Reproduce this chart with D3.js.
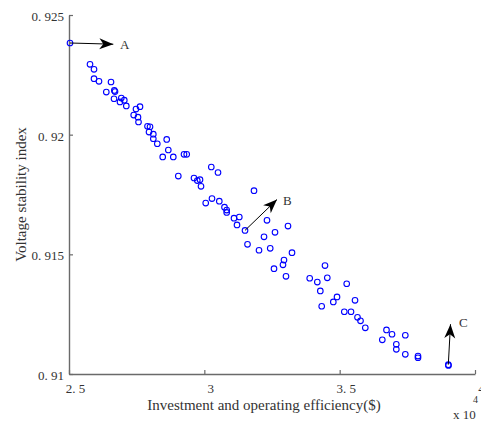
<!DOCTYPE html>
<html>
<head>
<meta charset="utf-8">
<script src="https://cdn.jsdelivr.net/npm/d3@7"></script>
<style>
  html, body { margin: 0; padding: 0; background: #fff; }
  svg text { font-family: "Liberation Serif", "Times New Roman", serif; fill: #333; }
</style>
</head>
<body>
<svg id="chart" width="481" height="421"></svg>
<script>
// Investment/operating efficiency (x 10^4 $) against voltage stability index
const investment = [
  2.5037, 2.5776, 2.5924, 2.5924, 2.6108, 2.6552, 2.6378, 2.6674, 2.6700, 2.6663,
  2.6884, 2.6932, 2.7043, 2.7117, 2.7623, 2.7475, 2.7390, 2.7549, 2.7568, 2.7900,
  2.7993, 2.7956, 2.8115, 2.8115, 2.8262, 2.8610, 2.8669, 2.8462, 2.8853, 2.9249,
  2.9349, 3.0257, 3.0505, 2.9038, 2.9618, 2.9740, 2.9840, 2.9877, 3.1835, 3.0051,
  3.0283, 3.0553, 3.0745, 3.0826, 3.0826, 3.1096, 3.1292, 3.1207, 3.1503, 3.1595,
  3.2315, 3.2205, 3.2611, 3.3091, 3.2020, 3.2434, 3.3239, 3.2943, 3.2906, 3.2574,
  3.3017, 3.4458, 3.3893, 3.4174, 3.4543, 3.5260, 3.4285, 3.4902, 3.4765, 3.5567,
  3.4336, 3.5171, 3.5419, 3.5659, 3.5770, 3.5947, 3.6730, 3.6934, 3.6575, 3.7425,
  3.7093, 3.7093, 3.7425, 3.7894, 3.7894, 3.9014, 3.9020
];
const stability = [
  0.92383, 0.92294, 0.92273, 0.92234, 0.92223, 0.92220, 0.92178, 0.92185, 0.92180, 0.92150,
  0.92137, 0.92153, 0.92144, 0.92120, 0.92117, 0.92107, 0.92082, 0.92073, 0.92053, 0.92035,
  0.92033, 0.92011, 0.92002, 0.91983, 0.91962, 0.91980, 0.91936, 0.91907, 0.91907, 0.91918,
  0.91918, 0.91865, 0.91842, 0.91827, 0.91819, 0.91808, 0.91812, 0.91784, 0.91766, 0.91714,
  0.91733, 0.91722, 0.91697, 0.91685, 0.91675, 0.91651, 0.91656, 0.91623, 0.91600, 0.91542,
  0.91642, 0.91573, 0.91592, 0.91618, 0.91517, 0.91525, 0.91507, 0.91476, 0.91456, 0.91440,
  0.91408, 0.91453, 0.91400, 0.91384, 0.91402, 0.91377, 0.91347, 0.91322, 0.91301, 0.91308,
  0.91283, 0.91260, 0.91260, 0.91237, 0.91222, 0.91193, 0.91184, 0.91166, 0.91143, 0.91162,
  0.91124, 0.91103, 0.91082, 0.91068, 0.91075, 0.91039, 0.91036
];

const xTicks = [2.5, 3, 3.5, 4];
const yTicks = [0.91, 0.915, 0.92, 0.925];
const xTickLabels = ["2. 5", "3", "3. 5", "4"];
const yTickLabels = ["0. 91", "0. 915", "0. 92", "0. 925"];

// Annotated solutions: arrow tail, arrow head, label anchor (data units)
const markNames = ["A", "B", "C"];
const arrowFromX = [2.5037, 3.1503, 3.9014];
const arrowFromY = [0.92383, 0.91600, 0.91039];
const arrowToX   = [2.6637, 3.2685, 3.9095];
const arrowToY   = [0.92378, 0.91729, 0.91208];
const labelX     = [2.6884, 3.2906, 3.9409];
const labelY     = [0.92378, 0.91727, 0.91217];

const svg = d3.select("#chart");
const x = d3.scaleLinear().domain([2.5, 4]).range([69, 475]);
const y = d3.scaleLinear().domain([0.91, 0.925]).range([374, 15]);

const axisColor = "#6a6a6a";

const xAxis = svg.append("g")
  .attr("transform", `translate(0,${y(0.91)})`)
  .call(d3.axisBottom(x).tickValues(xTicks)
    .tickFormat((d, i) => xTickLabels[i])
    .tickSizeInner(-4).tickSizeOuter(0).tickPadding(10));
xAxis.selectAll("text").attr("dx", 6).style("font-size", "13px");

const yAxis = svg.append("g")
  .attr("transform", `translate(${x(2.5)},0)`)
  .call(d3.axisLeft(y).tickValues(yTicks)
    .tickFormat((d, i) => yTickLabels[i])
    .tickSizeInner(-4).tickSizeOuter(0).tickPadding(5));
yAxis.selectAll("text").attr("dy", "0.42em").style("font-size", "13px");

[xAxis, yAxis].forEach(g => {
  g.select(".domain").attr("stroke", axisColor).attr("stroke-width", 1.4);
  g.selectAll(".tick line").attr("stroke", axisColor).attr("stroke-width", 1.2);
  g.selectAll("text").attr("fill", "#333");
});

// Scatter of the solution set
svg.append("g").selectAll("circle")
  .data(investment.map((v, i) => [v, stability[i]]))
  .join("circle")
  .attr("cx", d => x(d[0]))
  .attr("cy", d => y(d[1]))
  .attr("r", 2.8)
  .attr("fill", "none")
  .attr("stroke", "#0000ff")
  .attr("stroke-width", 1.1);

// Arrows with notched heads
function arrowHead(x0, y0, x1, y1) {
  const ang = Math.atan2(y1 - y0, x1 - x0);
  const len = 14, half = 5.5, notch = 10;
  const ux = Math.cos(ang), uy = Math.sin(ang);
  const px = -uy, py = ux;
  const bx = x1 - ux * len, by = y1 - uy * len;
  const nx = x1 - ux * notch, ny = y1 - uy * notch;
  return `M${x1},${y1}L${bx + px * half},${by + py * half}L${nx},${ny}L${bx - px * half},${by - py * half}Z`;
}

const ann = svg.append("g");
markNames.forEach((name, i) => {
  const x0 = x(arrowFromX[i]), y0 = y(arrowFromY[i]);
  const x1 = x(arrowToX[i]), y1 = y(arrowToY[i]);
  ann.append("line")
    .attr("x1", x0).attr("y1", y0).attr("x2", x1).attr("y2", y1)
    .attr("stroke", "#000").attr("stroke-width", 1);
  ann.append("path").attr("d", arrowHead(x0, y0, x1, y1)).attr("fill", "#000");
  ann.append("text")
    .attr("x", x(labelX[i])).attr("y", y(labelY[i]))
    .attr("dy", "0.35em")
    .style("font-size", "13px")
    .attr("fill", "#444")
    .text(name);
});

// Axis titles
svg.append("text")
  .attr("x", 264).attr("y", 410)
  .attr("text-anchor", "middle")
  .style("font-size", "15px")
  .text("Investment and operating efficiency($)");

svg.append("text")
  .attr("transform", `translate(26,${(y(0.91) + y(0.925)) / 2}) rotate(-90)`)
  .attr("text-anchor", "middle")
  .style("font-size", "15px")
  .text("Voltage stability index");

// Exponent of the x axis
svg.append("text").attr("x", 453).attr("y", 419).style("font-size", "13px").text("x 10");
svg.append("text").attr("x", 473).attr("y", 403).style("font-size", "10px").text("4");
</script>
</body>
</html>
